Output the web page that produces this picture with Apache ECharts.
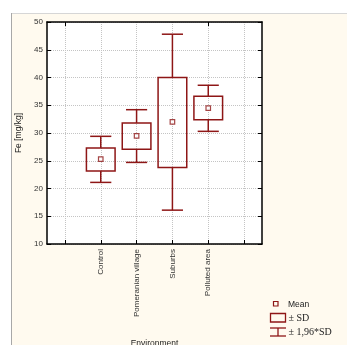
<!DOCTYPE html>
<html>
<head>
<meta charset="utf-8">
<script src="https://cdn.jsdelivr.net/npm/echarts@6/dist/echarts.min.js"></script>
<style>
html,body{margin:0;padding:0;background:#ffffff;}
#chart{width:347px;height:345px;}
</style>
</head>
<body>
<div id="chart"></div>
<script>
// Data
var categories = ['', 'Control', 'Pomeranian village', 'Suburbs', 'Polluted area', ' '];
var groupIndex = [1, 2, 3, 4];
var means  = [25.3, 29.5, 32.0, 34.5];
var sdLow  = [23.15, 27.05, 23.8, 32.4];
var sdHigh = [27.3, 31.8, 40.0, 36.6];
var ciLow  = [21.1, 24.7, 16.1, 30.3];
var ciHigh = [29.4, 34.2, 47.8, 38.6];
var yTicks = [10, 15, 20, 25, 30, 35, 40, 45, 50];

var boxColor = '#8e1616';
var boxData = groupIndex.map(function (c, i) { return [c, ciLow[i], sdLow[i], sdHigh[i], ciHigh[i]]; });
var meanData = groupIndex.map(function (c, i) { return [c, means[i]]; });

var chart = echarts.init(document.getElementById('chart'), null, {renderer: 'canvas'});
var labelFont = {fontFamily: 'Liberation Sans', fontSize: 8, color: '#333333'};

var option = {
  backgroundColor: '#ffffff',
  animation: false,
  graphic: [
    {type: 'rect', z: -10, shape: {x: 12, y: 13, width: 340, height: 340}, style: {fill: '#fffaef'}},
    {type: 'line', z: -9, shape: {x1: 12, y1: 13.5, x2: 347, y2: 13.5}, style: {stroke: '#d6d6d6', lineWidth: 1}},
    {type: 'line', z: -9, shape: {x1: 11.5, y1: 13, x2: 11.5, y2: 345}, style: {stroke: '#a8a8a8', lineWidth: 1}},
    // legend
    {type: 'rect', shape: {x: 273.5, y: 301.5, width: 4.5, height: 4.5}, style: {fill: 'none', stroke: boxColor, lineWidth: 1.2}},
    {type: 'text', x: 288, y: 304.5, style: {text: 'Mean', fontFamily: 'Liberation Sans', fontSize: 8.5, fill: '#222', verticalAlign: 'middle'}},
    {type: 'rect', shape: {x: 270.5, y: 313.5, width: 15, height: 8.5}, style: {fill: 'none', stroke: boxColor, lineWidth: 1.3}},
    {type: 'text', x: 288.5, y: 318.5, style: {text: '± SD', fontFamily: 'Liberation Serif', fontSize: 10, fill: '#222', verticalAlign: 'middle'}},
    {type: 'line', shape: {x1: 270, y1: 328, x2: 286, y2: 328}, style: {stroke: boxColor, lineWidth: 1.3}},
    {type: 'line', shape: {x1: 270, y1: 336, x2: 286, y2: 336}, style: {stroke: boxColor, lineWidth: 1.3}},
    {type: 'line', shape: {x1: 278, y1: 328, x2: 278, y2: 336}, style: {stroke: boxColor, lineWidth: 1.3}},
    {type: 'text', x: 288.5, y: 332.5, style: {text: '± 1,96*SD', fontFamily: 'Liberation Serif', fontSize: 10, fill: '#222', verticalAlign: 'middle'}}
  ],
  grid: {left: 47, top: 22, right: 85, bottom: 101, show: true, backgroundColor: '#ffffff', borderWidth: 0,
         containLabel: false, outerBoundsMode: 'none'},
  xAxis: [
    {
      type: 'category', data: categories, position: 'bottom', boundaryGap: true,
      name: 'Environment', nameLocation: 'middle', nameGap: 95,
      nameTextStyle: {fontFamily: 'Liberation Sans', fontSize: 8.5, color: '#222'},
      axisLine: {show: true, lineStyle: {color: '#000', width: 1.5}},
      axisTick: {show: true, inside: true, alignWithLabel: true, length: 4, lineStyle: {color: '#000', width: 1}},
      axisLabel: Object.assign({rotate: 90, margin: 5, interval: 0}, labelFont),
      splitLine: {show: true, alignWithLabel: true, lineStyle: {color: '#c4c4c4', type: 'dotted', width: 1}}
    },
    {
      type: 'category', data: categories, position: 'top', boundaryGap: true,
      axisLine: {show: true, lineStyle: {color: '#000', width: 1.5}},
      axisTick: {show: true, inside: true, alignWithLabel: true, length: 4, lineStyle: {color: '#000', width: 1}},
      axisLabel: {show: false},
      splitLine: {show: false}
    }
  ],
  yAxis: [
    {
      type: 'value', min: yTicks[0], max: yTicks[yTicks.length - 1], interval: 5, position: 'left',
      name: 'Fe [mg/kg]', nameLocation: 'middle', nameGap: 17, nameRotate: 90,
      nameTextStyle: {fontFamily: 'Liberation Sans', fontSize: 8.5, color: '#222'},
      axisLine: {show: true, lineStyle: {color: '#000', width: 1.5}},
      axisTick: {show: true, inside: true, length: 4, lineStyle: {color: '#000', width: 1}},
      axisLabel: Object.assign({margin: 4}, labelFont),
      splitLine: {show: true, lineStyle: {color: '#c4c4c4', type: 'dotted', width: 1}}
    },
    {
      type: 'value', min: yTicks[0], max: yTicks[yTicks.length - 1], interval: 5, position: 'right',
      axisLine: {show: true, lineStyle: {color: '#000', width: 1.5}},
      axisTick: {show: true, inside: true, length: 4, lineStyle: {color: '#000', width: 1}},
      axisLabel: {show: false},
      splitLine: {show: false}
    }
  ],
  series: [
    {
      type: 'custom', name: '± SD', xAxisIndex: 0, yAxisIndex: 0, data: boxData, z: 3,
      encode: {x: 0, y: [1, 2, 3, 4]},
      renderItem: function (params, api) {
        var c = api.value(0);
        var band = api.size([1, 0])[0];
        var pLo = api.coord([c, api.value(1)]);
        var pSl = api.coord([c, api.value(2)]);
        var pSh = api.coord([c, api.value(3)]);
        var pHi = api.coord([c, api.value(4)]);
        var bw = band * 0.8, cw = band * 0.59;
        var x = pSl[0];
        var st = {stroke: boxColor, lineWidth: 1.5, fill: 'none'};
        return {
          type: 'group',
          children: [
            {type: 'rect', shape: {x: x - bw / 2, y: pSh[1], width: bw, height: pSl[1] - pSh[1]}, style: st},
            {type: 'line', shape: {x1: x, y1: pSh[1], x2: x, y2: pHi[1]}, style: st},
            {type: 'line', shape: {x1: x, y1: pSl[1], x2: x, y2: pLo[1]}, style: st},
            {type: 'line', shape: {x1: x - cw / 2, y1: pHi[1], x2: x + cw / 2, y2: pHi[1]}, style: st},
            {type: 'line', shape: {x1: x - cw / 2, y1: pLo[1], x2: x + cw / 2, y2: pLo[1]}, style: st}
          ]
        };
      }
    },
    {
      type: 'scatter', name: 'Mean', xAxisIndex: 0, yAxisIndex: 0, data: meanData, z: 4,
      symbol: 'rect', symbolSize: 4.5,
      itemStyle: {color: '#ffffff', borderColor: boxColor, borderWidth: 1.2}
    }
  ]
};
chart.setOption(option);
</script>
</body>
</html>
